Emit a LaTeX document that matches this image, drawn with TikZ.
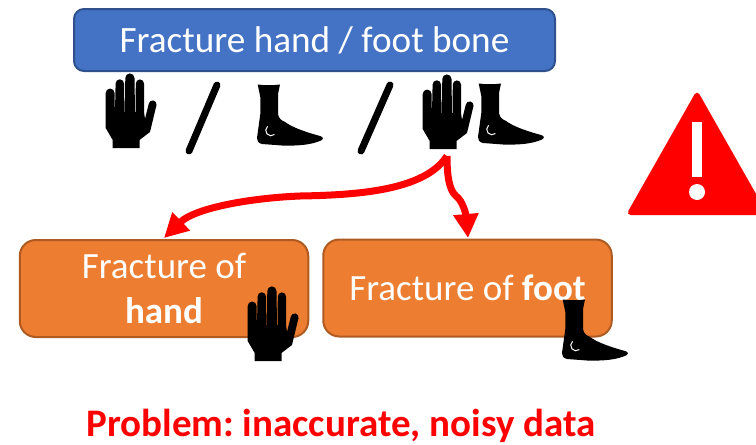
\documentclass[tikz,border=0pt]{standalone}
\usepackage{fontspec}
\setmainfont{Carlito}
\usepackage{xcolor}
\usepackage{tikz}
\usetikzlibrary{arrows.meta,calc}
\definecolor{bluefill}{HTML}{4472C4}
\definecolor{blueline}{HTML}{2F528F}
\definecolor{orangefill}{HTML}{ED7D31}
\definecolor{orangeline}{HTML}{AE5A21}
\tikzset{
  handicon/.pic={
    \fill[black] (0.7,19) -- (0.7,54) -- (7.7,66) -- (7.7,74) -- (34.5,74) -- (34.5,66) -- (45,58) -- (51.5,31)
      arc[start angle=-10,end angle=170,radius=3.9pt] -- (40,45) -- (39,38) -- (39,9.5)
      arc[start angle=0,end angle=180,radius=4.1pt] -- (30.5,38) -- (30,38) -- (29.5,4)
      arc[start angle=0,end angle=180,radius=4.6pt] -- (19.8,38) -- (19.4,38) -- (19,9.5)
      arc[start angle=0,end angle=180,radius=4.2pt] -- (10,38) -- (9.8,38) -- (9.6,19)
      arc[start angle=0,end angle=180,radius=4.45pt] -- cycle;
  },
  footicon/.pic={
    \fill[black] (0.7,0.5) .. controls (8,1.5) and (16,1.5) .. (23,0.5) -- (21,10) -- (21,30)
      .. controls (22,35) and (24,36) .. (28,38) .. controls (35,43) and (45,47) .. (63,52)
      .. controls (66,53) and (67,55) .. (65,56) .. controls (55,61) and (40,62) .. (25,61.5)
      -- (5,60) .. controls (1,59) and (0,57) .. (0,54) -- (3.3,30) -- (3.3,13) -- cycle;
    \draw[white,line width=1pt] (10.6,42.4) arc[start angle=130,end angle=310,radius=5.3pt];
  },
  headbox/.style={draw=blueline,fill=bluefill,line width=2pt,rounded corners=10pt,text=white,
    font=\fontsize{37.2}{44}\selectfont,minimum width=481pt,minimum height=62pt,inner sep=0pt},
  casebox/.style={draw=orangeline,fill=orangefill,line width=2pt,rounded corners=16pt,text=white,
    font=\fontsize{37}{45}\selectfont,align=center,minimum width=288.5pt,minimum height=97pt,inner sep=0pt},
  redarrow/.style={draw=red,line width=7pt,-{Triangle[length=24pt,width=24pt]}},
  slash/.style={line width=7pt,line cap=round}
}
\begin{document}
\frenchspacing
\begin{tikzpicture}[x=1pt,y=-1pt]
\useasboundingbox (0,0) rectangle (756,445);
\node[headbox] (head) at (314.5,40) {Fracture hand / foot bone};
\node[casebox] (hand) at (164,288.5) {Fracture of\\\textbf{hand}};
\node[casebox] (foot) at (467.5,288) {Fracture of \textbf{foot}};
\pic at (105,74) {handicon};
\pic at (257,84) {footicon};
\pic at (422,75) {handicon};
\pic at (478,83) {footicon};
\pic at (247,287) {handicon};
\pic at (562,299) {footicon};
\draw[slash] (217,85) -- (189,151);
\draw[slash] (390,85) -- (361,151);
\coordinate (root) at (447,156);
\draw[redarrow] (root) .. controls (425,190) and (360,195) .. (300,196) .. controls (250,198) and (195,208) .. (164,238);
\draw[redarrow] (root) .. controls (447,175) and (449,190) .. (456,196) .. controls (463,201) and (466,215) .. (468,238);
\fill[red,rounded corners=5pt] (697,90) -- (768,215) -- (626,215) -- cycle;
\fill[white] (692,122) rectangle (702,177);
\fill[white] (697,192) circle[radius=8pt];
\node[text=red,font=\fontsize{39}{46}\selectfont\bfseries] (problem) at (341,426) {Problem: inaccurate, noisy data};
\end{tikzpicture}
\end{document}
